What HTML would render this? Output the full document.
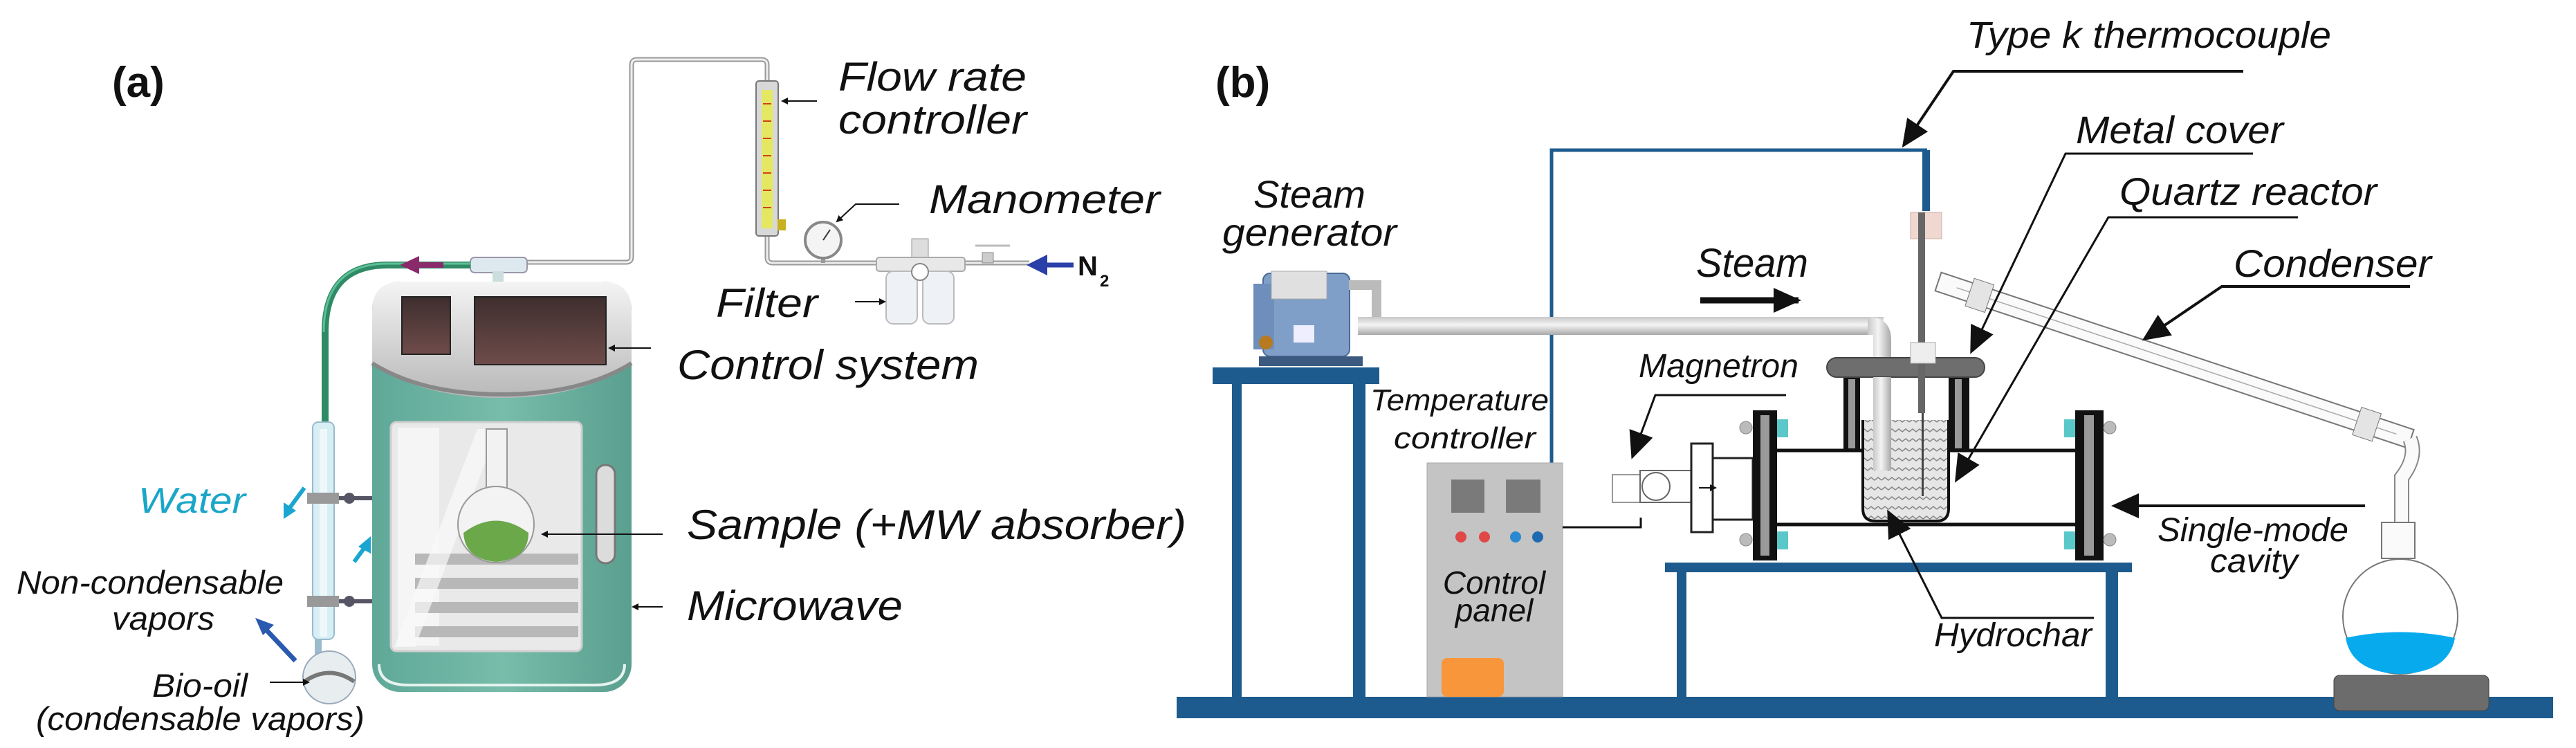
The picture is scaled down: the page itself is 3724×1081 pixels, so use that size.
<!DOCTYPE html>
<html><head><meta charset="utf-8"><style>
html,body{margin:0;padding:0;background:#fff;}
svg{display:block;}
text{font-family:"Liberation Sans",Arial,sans-serif;font-style:italic;fill:#111;}
</style></head><body>
<svg width="3724" height="1081" viewBox="0 0 3724 1081" xmlns="http://www.w3.org/2000/svg">
<defs>
<marker id="ah" markerWidth="10" markerHeight="10" refX="8" refY="5" orient="auto" markerUnits="userSpaceOnUse"><path d="M0,0 L10,5 L0,10 z" fill="#111"/></marker>
<marker id="AH" markerWidth="40" markerHeight="36" refX="36" refY="18" orient="auto" markerUnits="userSpaceOnUse"><path d="M0,0 L40,18 L0,36 z" fill="#111"/></marker>
<linearGradient id="mwg" x1="0" x2="1"><stop offset="0" stop-color="#5fa898"/><stop offset="0.5" stop-color="#78bcaa"/><stop offset="1" stop-color="#5a9f8f"/></linearGradient>
<linearGradient id="topg" x1="0" y1="0" x2="0" y2="1"><stop offset="0" stop-color="#f4f4f4"/><stop offset="1" stop-color="#b8b8b8"/></linearGradient>
<linearGradient id="scr" x1="0" y1="0" x2="0" y2="1"><stop offset="0" stop-color="#3e2e2e"/><stop offset="1" stop-color="#6e4c4a"/></linearGradient>
<linearGradient id="pipe" x1="0" y1="0" x2="0" y2="1"><stop offset="0" stop-color="#c8c8c8"/><stop offset="0.45" stop-color="#f4f4f4"/><stop offset="1" stop-color="#a8a8a8"/></linearGradient>
<linearGradient id="pipev" x1="0" y1="0" x2="1" y2="0"><stop offset="0" stop-color="#c8c8c8"/><stop offset="0.45" stop-color="#f4f4f4"/><stop offset="1" stop-color="#a8a8a8"/></linearGradient>
<pattern id="hatch" width="20" height="14" patternUnits="userSpaceOnUse"><rect width="20" height="14" fill="#e6e6e6"/><path d="M0,8 L5,4 L10,8 L15,4 L20,8" stroke="#888" stroke-width="1.5" fill="none"/></pattern>
</defs>

<!-- ===== Panel (a) ===== -->
<text x="162" y="140" font-size="62" font-weight="bold" style="font-style:normal">(a)</text>

<path d="M758,379 L905,379 Q913,379 913,371 L913,94 Q913,86 921,86 L1101,86 Q1109,86 1109,94 L1109,117" fill="none" stroke="#999" stroke-width="7"/>
<path d="M758,379 L905,379 Q913,379 913,371 L913,94 Q913,86 921,86 L1101,86 Q1109,86 1109,94 L1109,117" fill="none" stroke="#eee" stroke-width="3"/>
<path d="M1109,341 L1109,372 Q1109,380 1117,380 L1488,380" fill="none" stroke="#999" stroke-width="7"/>
<path d="M1109,341 L1109,372 Q1109,380 1117,380 L1488,380" fill="none" stroke="#eee" stroke-width="3"/>
<rect x="1093" y="117" width="32" height="224" rx="4" fill="#d8d8d8" stroke="#777" stroke-width="2"/>
<rect x="1101" y="130" width="16" height="200" fill="#e4e860"/>
<g stroke="#d04020" stroke-width="2"><line x1="1103" y1="150" x2="1115" y2="150"/><line x1="1103" y1="175" x2="1115" y2="175"/><line x1="1103" y1="200" x2="1115" y2="200"/><line x1="1103" y1="225" x2="1115" y2="225"/><line x1="1103" y1="250" x2="1115" y2="250"/><line x1="1103" y1="275" x2="1115" y2="275"/><line x1="1103" y1="300" x2="1115" y2="300"/></g>
<rect x="1124" y="317" width="12" height="16" fill="#c8b020"/>
<line x1="1190" y1="380" x2="1190" y2="365" stroke="#999" stroke-width="6"/>
<circle cx="1190" cy="347" r="26" fill="#f4f4f4" stroke="#888" stroke-width="4"/>
<line x1="1190" y1="347" x2="1200" y2="332" stroke="#333" stroke-width="2"/>
<rect x="1318" y="345" width="24" height="30" fill="#ddd" stroke="#999"/>
<rect x="1267" y="372" width="128" height="20" rx="4" fill="#e8e8e8" stroke="#aaa" stroke-width="2"/>
<rect x="1281" y="392" width="45" height="76" rx="10" fill="#eef2f6" stroke="#bbb" stroke-width="2"/>
<rect x="1334" y="392" width="45" height="76" rx="10" fill="#eef2f6" stroke="#bbb" stroke-width="2"/>
<circle cx="1330" cy="393" r="12" fill="#fff" stroke="#888" stroke-width="2"/>
<rect x="1420" y="365" width="16" height="15" fill="#ccc" stroke="#888"/>
<line x1="1410" y1="355" x2="1460" y2="355" stroke="#bbb" stroke-width="3"/>
<line x1="1552" y1="383" x2="1500" y2="383" stroke="#2a3fa8" stroke-width="7"/>
<path d="M1484,383 L1514,368 L1514,398 z" fill="#2a3fa8"/>
<text x="1558" y="398" font-size="40" font-weight="bold" style="font-style:normal">N</text>
<text x="1590" y="414" font-size="24" font-weight="bold" style="font-style:normal">2</text>

<rect x="680" y="372" width="82" height="22" rx="6" fill="#dde8ef" stroke="#99a" stroke-width="2"/>
<rect x="712" y="392" width="16" height="16" fill="#cdd"/>
<path d="M680,383 L560,383 Q470,383 470,480 L470,612" fill="none" stroke="#2f8a66" stroke-width="10"/>
<path d="M680,381 L560,381 Q468,381 468,480" fill="none" stroke="#5cbf96" stroke-width="3"/>
<line x1="641" y1="383" x2="595" y2="383" stroke="#8a2a6a" stroke-width="8"/>
<path d="M578,383 L606,370 L606,396 z" fill="#8a2a6a"/>

<rect x="538" y="407" width="375" height="593" rx="40" fill="url(#mwg)"/>
<path d="M538,450 Q538,407 581,407 L870,407 Q913,407 913,450 L913,525 Q840,575 725,575 Q610,575 538,525 z" fill="url(#topg)"/>
<path d="M538,525 Q610,570 725,570 Q840,570 913,525" fill="none" stroke="#888" stroke-width="6"/>
<rect x="581" y="429" width="70" height="83" fill="url(#scr)" stroke="#222" stroke-width="2"/>
<rect x="686" y="429" width="190" height="98" fill="url(#scr)" stroke="#222" stroke-width="2"/>
<path d="M548,960 Q548,990 590,990 L860,990 Q903,990 903,960" fill="none" stroke="#e6f3ef" stroke-width="4"/>
<rect x="565" y="610" width="276" height="331" rx="8" fill="#e9e9e9" stroke="#cfcfcf" stroke-width="3"/>
<rect x="575" y="618" width="60" height="315" fill="#f5f5f5"/>
<g fill="#b8b8b8"><rect x="600" y="800" width="236" height="16"/><rect x="600" y="835" width="236" height="16"/><rect x="600" y="870" width="236" height="16"/><rect x="600" y="905" width="236" height="16"/></g>
<path d="M570,935 L690,620 L720,620 L600,935 z" fill="#fafafa" opacity="0.7"/>
<rect x="862" y="672" width="27" height="142" rx="13" fill="#dcdcdc" stroke="#777" stroke-width="3"/>
<rect x="703" y="620" width="30" height="92" fill="#f2f2f2" stroke="#999" stroke-width="2"/>
<circle cx="717" cy="758" r="55" fill="#f3f3f3" stroke="#999" stroke-width="2"/>
<path d="M670,770 Q717,735 764,770 Q764,808 717,812 Q672,808 670,770 z" fill="#6aa84a"/>
<rect x="452" y="610" width="31" height="314" rx="8" fill="#d6eef4" stroke="#9bc" stroke-width="2"/>
<rect x="462" y="620" width="11" height="300" fill="#eef8fb"/>
<rect x="444" y="712" width="46" height="16" fill="#999"/><rect x="444" y="861" width="46" height="16" fill="#999"/>
<line x1="490" y1="720" x2="538" y2="720" stroke="#556" stroke-width="6"/><line x1="490" y1="869" x2="538" y2="869" stroke="#556" stroke-width="6"/>
<circle cx="505" cy="720" r="8" fill="#556"/><circle cx="505" cy="869" r="8" fill="#556"/>
<line x1="460" y1="924" x2="460" y2="950" stroke="#9bc" stroke-width="10"/>
<circle cx="476" cy="979" r="38" fill="#e8eef0" stroke="#9ab" stroke-width="2"/>
<path d="M440,985 Q476,960 512,985" fill="none" stroke="#777" stroke-width="6"/>
<line x1="440" y1="705" x2="418" y2="735" stroke="#1aa6d0" stroke-width="6"/>
<path d="M410,750 L410,726 L428,738 z" fill="#1aa6d0"/>
<line x1="512" y1="812" x2="528" y2="790" stroke="#1aa6d0" stroke-width="6"/>
<path d="M536,775 L536,800 L518,790 z" fill="#1aa6d0"/>
<line x1="427" y1="955" x2="380" y2="905" stroke="#2a5ab0" stroke-width="7"/>
<path d="M369,893 L396,903 L380,918 z" fill="#2a5ab0"/>

<text x="1212" y="131" font-size="58" textLength="272" lengthAdjust="spacingAndGlyphs">Flow rate</text>
<text x="1212" y="193" font-size="58" textLength="272" lengthAdjust="spacingAndGlyphs">controller</text>
<line x1="1181" y1="146" x2="1131" y2="146" stroke="#111" stroke-width="2" marker-end="url(#ah)"/>
<text x="1343" y="308" font-size="58" textLength="334" lengthAdjust="spacingAndGlyphs">Manometer</text>
<polyline points="1300,295 1237,295 1210,320" fill="none" stroke="#111" stroke-width="2" marker-end="url(#ah)"/>
<text x="1035" y="458" font-size="58" textLength="147" lengthAdjust="spacingAndGlyphs">Filter</text>
<line x1="1236" y1="436" x2="1279" y2="436" stroke="#111" stroke-width="2" marker-end="url(#ah)"/>
<text x="979" y="548" font-size="60" textLength="436" lengthAdjust="spacingAndGlyphs">Control system</text>
<line x1="941" y1="503" x2="881" y2="503" stroke="#111" stroke-width="2" marker-end="url(#ah)"/>
<text x="993" y="779" font-size="60" textLength="722" lengthAdjust="spacingAndGlyphs">Sample (+MW absorber)</text>
<line x1="958" y1="772" x2="784" y2="772" stroke="#111" stroke-width="2" marker-end="url(#ah)"/>
<text x="993" y="896" font-size="60" textLength="312" lengthAdjust="spacingAndGlyphs">Microwave</text>
<line x1="958" y1="877" x2="915" y2="877" stroke="#111" stroke-width="2" marker-end="url(#ah)"/>
<text x="200" y="741" font-size="52" style="fill:#1aa6c8" textLength="155" lengthAdjust="spacingAndGlyphs">Water</text>
<text x="24" y="858" font-size="47" textLength="386" lengthAdjust="spacingAndGlyphs">Non-condensable</text>
<text x="162" y="910" font-size="47" textLength="148" lengthAdjust="spacingAndGlyphs">vapors</text>
<text x="220" y="1007" font-size="47" textLength="138" lengthAdjust="spacingAndGlyphs">Bio-oil</text>
<line x1="390" y1="986" x2="446" y2="986" stroke="#111" stroke-width="2" marker-end="url(#ah)"/>
<text x="52" y="1055" font-size="47" textLength="475" lengthAdjust="spacingAndGlyphs">(condensable vapors)</text>

<!-- ===== Panel (b) ===== -->
<text x="1757" y="140" font-size="62" font-weight="bold" style="font-style:normal">(b)</text>

<rect x="1701" y="1007" width="1990" height="31" fill="#1d5b8e"/>
<rect x="1753" y="531" width="241" height="24" fill="#1d5b8e"/>
<rect x="1781" y="555" width="14" height="452" fill="#1d5b8e"/>
<rect x="1956" y="555" width="18" height="452" fill="#1d5b8e"/>
<rect x="1826" y="395" width="125" height="120" rx="10" fill="#7f9fc8" stroke="#4a6a96" stroke-width="2"/>
<rect x="1812" y="410" width="30" height="95" fill="#6e8fbb"/>
<rect x="1838" y="392" width="80" height="40" fill="#e0e0e0" stroke="#aaa"/>
<rect x="1870" y="470" width="30" height="25" fill="#eef"/>
<rect x="1820" y="515" width="150" height="14" fill="#3c5a80"/>
<circle cx="1830" cy="495" r="10" fill="#b87a20"/>
<path d="M1950,412 L1990,412 L1990,460" fill="none" stroke="#bbb" stroke-width="14"/>
<path d="M2243,669 L2243,217 L2786,217" fill="none" stroke="#1d5b8e" stroke-width="5"/>
<rect x="2779" y="217" width="11" height="88" fill="#1d5b8e"/>
<rect x="1963" y="458" width="760" height="26" fill="url(#pipe)"/>
<path d="M2700,458 Q2734,458 2734,492 L2734,679 L2708,679 L2708,484 L2700,484 z" fill="url(#pipev)"/>
<line x1="2458" y1="434" x2="2600" y2="434" stroke="#111" stroke-width="9" marker-end="url(#AH)"/>
<text x="2452" y="400" font-size="58" textLength="162" lengthAdjust="spacingAndGlyphs">Steam</text>
<rect x="2063" y="669" width="196" height="338" fill="#c4c4c4" stroke="#aaa"/>
<rect x="2098" y="693" width="48" height="48" fill="#7a7a7a"/>
<rect x="2177" y="693" width="50" height="48" fill="#7a7a7a"/>
<circle cx="2112" cy="776" r="8" fill="#e04848"/><circle cx="2146" cy="776" r="8" fill="#e04848"/>
<circle cx="2191" cy="776" r="8" fill="#2a88d0"/><circle cx="2223" cy="776" r="8" fill="#1e6ab0"/>
<rect x="2084" y="951" width="90" height="56" rx="8" fill="#f7963a"/>
<text x="2160" y="858" font-size="46" text-anchor="middle">Control</text>
<text x="2160" y="898" font-size="46" text-anchor="middle">panel</text>
<polyline points="2259,762 2372,762 2372,748" fill="none" stroke="#111" stroke-width="3"/>
<rect x="2407" y="813" width="675" height="14" fill="#1d5b8e"/>
<rect x="2424" y="827" width="14" height="180" fill="#1d5b8e"/>
<rect x="3044" y="827" width="18" height="180" fill="#1d5b8e"/>
<rect x="2331" y="686" width="40" height="40" fill="#fff" stroke="#999" stroke-width="2"/>
<circle cx="2394" cy="703" r="20" fill="#fff" stroke="#666" stroke-width="2"/>
<rect x="2371" y="680" width="74" height="46" fill="none" stroke="#666" stroke-width="2"/>
<rect x="2445" y="641" width="31" height="128" fill="#fff" stroke="#222" stroke-width="3"/>
<rect x="2476" y="662" width="58" height="89" fill="#fff" stroke="#222" stroke-width="3"/>
<line x1="2456" y1="705" x2="2480" y2="705" stroke="#111" stroke-width="2" marker-end="url(#ah)"/>
<line x1="2569" y1="651" x2="3000" y2="651" stroke="#111" stroke-width="5"/>
<line x1="2569" y1="758" x2="3000" y2="758" stroke="#111" stroke-width="5"/>
<rect x="2534" y="593" width="35" height="217" fill="#111"/><rect x="2545" y="600" width="13" height="203" fill="#999"/>
<rect x="3000" y="593" width="41" height="217" fill="#111"/><rect x="3013" y="600" width="14" height="203" fill="#999"/>
<g fill="#5ac8c8"><rect x="2569" y="606" width="16" height="26"/><rect x="2569" y="768" width="16" height="26"/><rect x="2984" y="606" width="16" height="26"/><rect x="2984" y="768" width="16" height="26"/></g>
<g fill="#bbb" stroke="#888"><circle cx="2524" cy="618" r="9"/><circle cx="2524" cy="780" r="9"/><circle cx="3050" cy="618" r="9"/><circle cx="3050" cy="780" r="9"/></g>
<rect x="2665" y="545" width="24" height="106" fill="#111"/><rect x="2672" y="548" width="10" height="100" fill="#999"/>
<rect x="2817" y="545" width="30" height="106" fill="#111"/><rect x="2826" y="548" width="10" height="100" fill="#999"/>
<path d="M2693,607 L2693,735 Q2693,753 2711,753 L2800,753 Q2817,753 2817,735 L2817,607" fill="url(#hatch)" stroke="#111" stroke-width="4"/>
<rect x="2641" y="517" width="228" height="28" rx="14" fill="#6e6e6e" stroke="#444" stroke-width="2"/>
<rect x="2708" y="545" width="26" height="135" fill="url(#pipev)"/>
<rect x="2762" y="307" width="45" height="38" fill="#f0d8d0" stroke="#caa"/>
<rect x="2773" y="307" width="10" height="290" fill="#666"/>
<rect x="2778" y="597" width="3" height="120" fill="#444"/>
<rect x="2762" y="495" width="36" height="30" fill="#eee" stroke="#aaa"/>
<g transform="rotate(18.4 2802 407)">
<rect x="2802" y="393" width="720" height="28" fill="#fafafa" stroke="#777" stroke-width="2"/>
<line x1="2830" y1="407" x2="3500" y2="407" stroke="#aaa" stroke-width="1.5"/>
<rect x="2850" y="386" width="30" height="42" fill="#e4e4e4" stroke="#777"/>
<rect x="3440" y="386" width="30" height="42" fill="#e4e4e4" stroke="#777"/>
</g>
<path d="M3484,634 Q3495,660 3472,690 L3472,755" fill="none" stroke="#888" stroke-width="22"/>
<path d="M3484,634 Q3495,660 3472,690 L3472,755" fill="none" stroke="#fafafa" stroke-width="18"/>
<rect x="3443" y="755" width="48" height="52" fill="#fafafa" stroke="#777" stroke-width="2"/>
<circle cx="3470" cy="891" r="83" fill="#fff" stroke="#777" stroke-width="2"/>
<path d="M3391,922 Q3470,905 3549,922 Q3540,972 3470,974 Q3400,972 3391,922 z" fill="#08aaee"/>
<rect x="3374" y="976" width="224" height="51" rx="8" fill="#6c6c6c" stroke="#444"/>

<text x="1812" y="300" font-size="56" textLength="162" lengthAdjust="spacingAndGlyphs">Steam</text>
<text x="1767" y="355" font-size="56" textLength="252" lengthAdjust="spacingAndGlyphs">generator</text>
<text x="1981" y="593" font-size="44" textLength="258" lengthAdjust="spacingAndGlyphs">Temperature</text>
<text x="2015" y="648" font-size="44" textLength="205" lengthAdjust="spacingAndGlyphs">controller</text>
<text x="2843" y="69" font-size="54" textLength="527" lengthAdjust="spacingAndGlyphs">Type k thermocouple</text>
<polyline points="3243,103 2824,103 2752,210" fill="none" stroke="#111" stroke-width="4" marker-end="url(#AH)"/>
<text x="3001" y="207" font-size="56" textLength="300" lengthAdjust="spacingAndGlyphs">Metal cover</text>
<polyline points="3257,222 2986,222 2850,508" fill="none" stroke="#111" stroke-width="3" marker-end="url(#AH)"/>
<text x="3064" y="296" font-size="56" textLength="372" lengthAdjust="spacingAndGlyphs">Quartz reactor</text>
<polyline points="3322,314 3048,314 2828,694" fill="none" stroke="#111" stroke-width="3" marker-end="url(#AH)"/>
<text x="3229" y="400" font-size="56" textLength="286" lengthAdjust="spacingAndGlyphs">Condenser</text>
<polyline points="3484,414 3212,414 3100,490" fill="none" stroke="#111" stroke-width="4" marker-end="url(#AH)"/>
<text x="2369" y="545" font-size="48" textLength="231" lengthAdjust="spacingAndGlyphs">Magnetron</text>
<polyline points="2582,571 2393,571 2360,660" fill="none" stroke="#111" stroke-width="3" marker-end="url(#AH)"/>
<text x="2796" y="934" font-size="48" textLength="228" lengthAdjust="spacingAndGlyphs">Hydrochar</text>
<polyline points="3027,893 2807,893 2730,740" fill="none" stroke="#111" stroke-width="3" marker-end="url(#AH)"/>
<line x1="3419" y1="731" x2="3056" y2="731" stroke="#111" stroke-width="4" marker-end="url(#AH)"/>
<text x="3119" y="782" font-size="48" textLength="276" lengthAdjust="spacingAndGlyphs">Single-mode</text>
<text x="3195" y="827" font-size="48" textLength="127" lengthAdjust="spacingAndGlyphs">cavity</text>
</svg>
</body></html>
